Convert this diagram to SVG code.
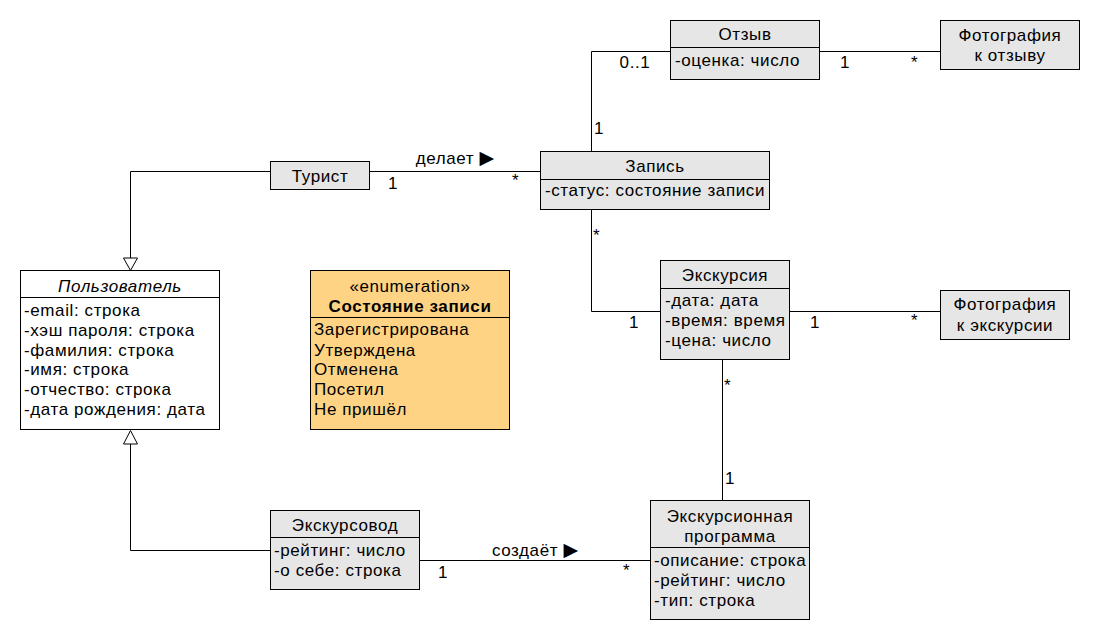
<svg xmlns="http://www.w3.org/2000/svg" width="1100" height="640" viewBox="0 0 1100 640">
<style>
text{font-family:"Liberation Sans",Arial,sans-serif;font-size:17px;letter-spacing:0.6px;fill:#000}
.c{text-anchor:middle}
.tr{font-family:"DejaVu Sans",sans-serif;font-size:19px;letter-spacing:0}
.box{fill:#e6e6e6;stroke:#000;stroke-width:1}
.wbox{fill:#fff;stroke:#000;stroke-width:1}
.ebox{fill:#ffd384;stroke:#000;stroke-width:1}
.ln{fill:none;stroke:#000;stroke-width:1}
.tri{fill:#fff;stroke:#000;stroke-width:1}
</style>
<rect width="1100" height="640" fill="#fff"/>
<g id="connectors">
<polyline class="ln" points="369.5,171.5 540.5,171.5"/>
<text class="c" x="455" y="164">делает <tspan class="tr">▶</tspan></text>
<text x="388" y="189">1</text>
<text x="512" y="186">*</text>
<polyline class="ln" points="591.5,151 591.5,51.5 670.5,51.5"/>
<text class="c" x="635" y="68">0..1</text>
<text x="594" y="134">1</text>
<polyline class="ln" points="819.5,51.5 940.5,51.5"/>
<text x="840" y="68">1</text>
<text x="911" y="68">*</text>
<polyline class="ln" points="591.5,209 591.5,311.5 660.5,311.5"/>
<text x="593" y="241">*</text>
<text x="629" y="328">1</text>
<polyline class="ln" points="789.5,311.5 940.5,311.5"/>
<text x="810" y="328">1</text>
<text x="911" y="326">*</text>
<polyline class="ln" points="722.5,359 722.5,500"/>
<text x="724" y="391">*</text>
<text x="725" y="484">1</text>
<polyline class="ln" points="419.5,560.5 650.5,560.5"/>
<text class="c" x="535" y="556">создаёт <tspan class="tr">▶</tspan></text>
<text x="438" y="578">1</text>
<text x="623" y="576">*</text>
<polyline class="ln" points="270.5,171.5 130.5,171.5 130.5,258"/>
<polygon class="tri" points="123.5,258 137.5,258 130.5,270.5"/>
<polyline class="ln" points="270.5,550.5 130.5,550.5 130.5,444"/>
<polygon class="tri" points="123.5,444 137.5,444 130.5,430.5"/>
</g>
<g id="otzyv">
<rect class="box" x="670.5" y="20.5" width="149" height="59"/>
<line class="ln" x1="670.5" y1="47.5" x2="819.5" y2="47.5"/>
<text class="c" x="745" y="40">Отзыв</text>
<text x="675" y="66">-оценка: число</text>
</g>
<g id="foto-otzyv">
<rect class="box" x="940.5" y="20.5" width="139" height="49"/>
<text class="c" x="1010" y="41">Фотография</text>
<text class="c" x="1010" y="61">к отзыву</text>
</g>
<g id="turist">
<rect class="box" x="270.5" y="161.5" width="99" height="28"/>
<text class="c" x="320" y="182">Турист</text>
</g>
<g id="zapis">
<rect class="box" x="540.5" y="151.5" width="229" height="58"/>
<line class="ln" x1="540.5" y1="179.5" x2="769.5" y2="179.5"/>
<text class="c" x="655" y="172">Запись</text>
<text x="545" y="196">-статус: состояние записи</text>
</g>
<g id="polzovatel">
<rect class="wbox" x="20.5" y="270.5" width="199" height="159"/>
<line class="ln" x1="20.5" y1="297.5" x2="219.5" y2="297.5"/>
<text class="c" x="120" y="292" font-style="italic">Пользователь</text>
<text x="24" y="316">-email: строка</text>
<text x="24" y="336">-хэш пароля: строка</text>
<text x="24" y="356">-фамилия: строка</text>
<text x="24" y="375">-имя: строка</text>
<text x="24" y="395">-отчество: строка</text>
<text x="24" y="415">-дата рождения: дата</text>
</g>
<g id="sostoyanie">
<rect class="ebox" x="310.5" y="270.5" width="199" height="159"/>
<line class="ln" x1="310.5" y1="317.5" x2="509.5" y2="317.5"/>
<text class="c" x="410" y="292">«enumeration»</text>
<text class="c" x="410" y="312" font-weight="bold">Состояние записи</text>
<text x="314" y="335">Зарегистрирована</text>
<text x="314" y="356">Утверждена</text>
<text x="314" y="375">Отменена</text>
<text x="314" y="395">Посетил</text>
<text x="314" y="415">Не пришёл</text>
</g>
<g id="ekskursiya">
<rect class="box" x="660.5" y="260.5" width="129" height="99"/>
<line class="ln" x1="660.5" y1="288.5" x2="789.5" y2="288.5"/>
<text class="c" x="725" y="281">Экскурсия</text>
<text x="665" y="306">-дата: дата</text>
<text x="665" y="326">-время: время</text>
<text x="665" y="346">-цена: число</text>
</g>
<g id="foto-ekskursii">
<rect class="box" x="940.5" y="290.5" width="129" height="49"/>
<text class="c" x="1005" y="310">Фотография</text>
<text class="c" x="1005" y="331">к экскурсии</text>
</g>
<g id="programma">
<rect class="box" x="650.5" y="500.5" width="159" height="119"/>
<line class="ln" x1="650.5" y1="547.5" x2="809.5" y2="547.5"/>
<text class="c" x="730" y="522">Экскурсионная</text>
<text class="c" x="730" y="542">программа</text>
<text x="654" y="566">-описание: строка</text>
<text x="654" y="586">-рейтинг: число</text>
<text x="654" y="606">-тип: строка</text>
</g>
<g id="ekskursovod">
<rect class="box" x="270.5" y="510.5" width="149" height="79"/>
<line class="ln" x1="270.5" y1="537.5" x2="419.5" y2="537.5"/>
<text class="c" x="345" y="531">Экскурсовод</text>
<text x="274" y="556">-рейтинг: число</text>
<text x="274" y="576">-о себе: строка</text>
</g>
</svg>
